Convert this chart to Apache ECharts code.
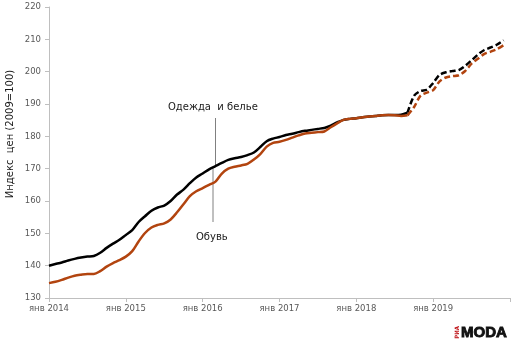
<!DOCTYPE html>
<html>
<head>
<meta charset="utf-8">
<script src="https://cdn.jsdelivr.net/npm/echarts@6/dist/echarts.min.js"></script>
<style>
  html, body { margin: 0; padding: 0; background: #fff; }
  #chart { width: 520px; height: 352px; }
</style>
</head>
<body>
<div id="chart"></div>
<script>
// месячные индексы цен, янв 2014 - дек 2019 (2009=100)
var clothes = [
  140.0, 140.5, 141.0, 141.6, 142.1, 142.5, 142.8, 143.0, 144.0, 145.5, 146.8, 148.0,
  149.5, 151.0, 153.5, 155.3, 157.0, 158.0, 158.6, 160.0, 162.0, 163.5, 165.5, 167.3,
  168.5, 169.8, 170.8, 171.8, 172.7, 173.2, 173.6, 174.2, 175.0, 176.7, 178.5, 179.3,
  179.8, 180.4, 180.8, 181.3, 181.7, 182.0, 182.3, 182.6, 183.3, 184.3, 185.1, 185.4,
  185.6, 185.9, 186.1, 186.3, 186.5, 186.6, 186.6, 186.7, 187.3, 192.5, 194.0, 194.4,
  196.5, 199.0, 199.8, 200.2, 200.5, 201.8, 203.5, 205.3, 206.7, 207.5, 208.4, 209.7
];
var shoes = [
  134.6, 135.0, 135.6, 136.3, 136.9, 137.2, 137.4, 137.4, 138.3, 139.7, 140.8, 141.7,
  142.8, 144.5, 147.5, 150.1, 151.8, 152.6, 153.1, 154.3, 156.5, 159.0, 161.5, 163.0,
  164.0, 165.0, 166.0, 168.5, 170.0, 170.6, 171.0, 171.5, 172.8, 174.5, 176.8, 178.0,
  178.3, 178.9, 179.6, 180.3, 180.9, 181.1, 181.3, 181.5, 182.8, 184.0, 185.1, 185.4,
  185.6, 185.9, 186.1, 186.3, 186.5, 186.6, 186.5, 186.3, 186.5, 189.0, 192.5, 193.5,
  194.3, 197.0, 198.2, 198.6, 198.9, 200.2, 202.5, 204.0, 205.5, 206.2, 207.0, 208.2
];
var years = ['янв 2014', 'янв 2015', 'янв 2016', 'янв 2017', 'янв 2018', 'янв 2019'];
var forecastFrom = 56; // с этого месяца линия пунктиром

var black = '#000000';
var rust = '#b2440f';

function part(arr, from, to) {
  var out = [];
  for (var i = from; i <= to; i++) out.push([i, arr[i]]);
  return out;
}

var myChart = echarts.init(document.getElementById('chart'));
var option = {
  animation: false,
  textStyle: { fontFamily: 'DejaVu Sans' },
  grid: { left: 49, right: 10, top: 7, bottom: 54 },
  xAxis: {
    type: 'value',
    min: 0,
    max: 72,
    interval: 12,
    axisLine: { lineStyle: { color: '#bfbfbf', width: 1 } },
    axisTick: { show: true, length: 4, lineStyle: { color: '#bfbfbf' } },
    splitLine: { show: false },
    axisLabel: {
      color: '#595959',
      fontSize: 8.5,
      margin: 6,
      formatter: function (v) { return years[v / 12] || ''; }
    }
  },
  yAxis: {
    type: 'value',
    min: 130,
    max: 220,
    interval: 10,
    axisLine: { show: true, lineStyle: { color: '#bfbfbf', width: 1 } },
    axisTick: { show: true, length: 4, lineStyle: { color: '#bfbfbf' } },
    splitLine: { show: false },
    axisLabel: { color: '#595959', fontSize: 8.5, margin: 8 }
  },
  series: [
    {
      name: 'Одежда и белье', type: 'line', smooth: 0.3, symbol: 'none',
      lineStyle: { color: black, width: 2.5 },
      data: part(clothes, 0, forecastFrom)
    },
    {
      name: 'Одежда и белье прогноз', type: 'line', smooth: 0.3, symbol: 'none',
      lineStyle: { color: black, width: 2.5, type: [6, 3] },
      data: part(clothes, forecastFrom, clothes.length - 1)
    },
    {
      name: 'Обувь', type: 'line', smooth: 0.3, symbol: 'none',
      lineStyle: { color: rust, width: 2.5 },
      data: part(shoes, 0, forecastFrom)
    },
    {
      name: 'Обувь прогноз', type: 'line', smooth: 0.3, symbol: 'none',
      lineStyle: { color: rust, width: 2.5, type: [6, 3] },
      data: part(shoes, forecastFrom, shoes.length - 1)
    }
  ],
  graphic: [
    {
      type: 'text', x: 10, y: 134, rotation: Math.PI / 2,
      style: { text: 'Индекс  цен (2009=100)', fill: '#1a1a1a', font: '10px "DejaVu Sans"', align: 'center', verticalAlign: 'middle' }
    },
    {
      type: 'text', x: 168, y: 107,
      style: { text: 'Одежда  и белье', fill: '#1a1a1a', font: '10px "DejaVu Sans"', verticalAlign: 'middle' }
    },
    { type: 'line', shape: { x1: 215.5, y1: 118, x2: 215.5, y2: 167 }, style: { stroke: '#808080', lineWidth: 1 } },
    {
      type: 'text', x: 196, y: 237,
      style: { text: 'Обувь', fill: '#1a1a1a', font: '10px "DejaVu Sans"', verticalAlign: 'middle' }
    },
    { type: 'line', shape: { x1: 213, y1: 222, x2: 213, y2: 168 }, style: { stroke: '#808080', lineWidth: 1 } },
    {
      type: 'text', x: 457.5, y: 332.5, rotation: Math.PI / 2,
      style: { text: 'РИА', fill: '#c0161b', font: 'bold 6px "DejaVu Sans Condensed", "DejaVu Sans"', align: 'center', verticalAlign: 'middle' }
    },
    {
      type: 'text', x: 461, y: 332.5,
      style: { text: 'MODA', fill: '#111', stroke: '#111', lineWidth: 0.9, font: 'bold 15px "Liberation Sans"', verticalAlign: 'middle' }
    }
  ]
};
myChart.setOption(option);
window.onresize = myChart.resize;
</script>
</body>
</html>
